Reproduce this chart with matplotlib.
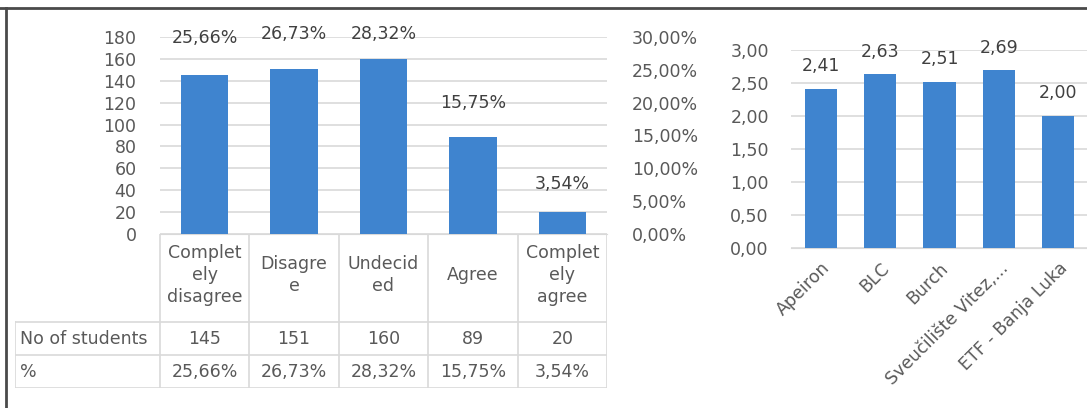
import matplotlib
matplotlib.use("Agg")
import matplotlib.pyplot as plt
from matplotlib.lines import Line2D
from matplotlib.ticker import FuncFormatter

# data
answers = ["Complet\nely\ndisagree", "Disagre\ne", "Undecid\ned", "Agree", "Complet\nely\nagree"]
n_students = [145, 151, 160, 89, 20]
pct = [25.66, 26.73, 28.32, 15.75, 3.54]
row_names = ["No of students", "%"]

schools = ["Apeiron", "BLC", "Burch", "Sveučilište Vitez,...", "ETF - Banja Luka"]
school_avg = [2.41, 2.63, 2.51, 2.69, 2.00]

blue = "#3f84cf"
grid_c = "#d9d9d9"
txt_c = "#595959"
lbl_c = "#404040"
fs = 12.5

plt.rcParams["font.family"] = "DejaVu Sans"

def comma(v, fmt="{:.2f}"):
    return fmt.format(v).replace(".", ",")

W, H = 1087, 408
fig = plt.figure(figsize=(W / 100, H / 100), dpi=100)

def box(x0, y0, x1, y1):
    # pixel box (top-left origin) -> figure fraction
    return [x0 / W, 1 - y1 / H, (x1 - x0) / W, (y1 - y0) / H]

# ---- left chart
ax = fig.add_axes(box(160, 37, 607, 234))
x = list(range(len(answers)))
ax.bar(x, n_students, width=0.53, color=blue, zorder=3)
ax.set_xlim(-0.5, len(answers) - 0.5)
ax.set_ylim(0, 180)
ax.set_yticks(range(0, 181, 20))
ax.grid(axis="y", color=grid_c, lw=1.2, zorder=0)
ax.set_xticks([])
for s in ["top", "right", "left"]:
    ax.spines[s].set_visible(False)
ax.spines["bottom"].set_color(grid_c)
ax.tick_params(axis="y", length=0, pad=17, labelsize=fs, labelcolor=txt_c)

ax2 = ax.twinx()
ax2.set_ylim(0, 30)
ax2.set_yticks(range(0, 31, 5))
ax2.yaxis.set_major_formatter(FuncFormatter(lambda v, p: comma(v) + "%"))
ax2.tick_params(axis="y", length=0, pad=18, labelsize=fs, labelcolor=txt_c)
for s in ax2.spines.values():
    s.set_visible(False)
pct_labels = []
for i, p in enumerate(pct):
    t = ax2.annotate(comma(p) + "%", (i, p), xytext=(0, 19.5), textcoords="offset points",
                     ha="center", va="center", fontsize=fs, color=lbl_c)
    pct_labels.append(t)

# keep labels inside the chart area like excel does
fig.canvas.draw()
top_px = ax.get_window_extent().y1 + 12
for t in pct_labels:
    bb = t.get_window_extent()
    if bb.y1 > top_px:
        dx, dy = t.xyann
        t.xyann = (dx, dy - (bb.y1 - top_px) * 72 / fig.dpi)

# ---- data table under left chart
row_w = 1.62  # width of row-label column in category units
tb = fig.add_axes(box(15, 234, 607, 388))
tb.set_xlim(-0.5 - row_w, len(answers) - 0.5)
hdr = 2.67
tb.set_ylim(hdr + len(row_names), 0)
tb.axis("off")
for k in range(len(answers) + 1):
    tb.plot([k - 0.5, k - 0.5], [0, hdr + len(row_names)], color=grid_c, lw=1.2)
tb.plot([-0.5 - row_w] * 2, [hdr, hdr + len(row_names)], color=grid_c, lw=1.2)
for r in range(len(row_names) + 1):
    tb.plot([-0.5 - row_w, len(answers) - 0.5], [hdr + r] * 2, color=grid_c, lw=1.2)
for i, a in enumerate(answers):
    tb.text(i, hdr / 2 - 0.1, a, ha="center", va="center", fontsize=fs, color=txt_c,
            linespacing=1.3)
rows = [[str(v) for v in n_students], [comma(p) + "%" for p in pct]]
for r, name in enumerate(row_names):
    yc = hdr + r + 0.5
    tb.text(-0.5 - row_w + 0.06, yc, name, ha="left", va="center", fontsize=fs, color=txt_c)
    for i, v in enumerate(rows[r]):
        tb.text(i, yc, v, ha="center", va="center", fontsize=fs, color=txt_c)

# ---- right chart
bx = fig.add_axes(box(791, 50, 1088, 248))
xs = list(range(len(schools)))
bx.bar(xs, school_avg, width=0.54, color=blue, zorder=3)
bx.set_xlim(-0.5, len(schools) - 0.5)
bx.set_ylim(0, 3)
bx.set_yticks([0, 0.5, 1, 1.5, 2, 2.5, 3])
bx.yaxis.set_major_formatter(FuncFormatter(lambda v, p: comma(v)))
bx.grid(axis="y", color=grid_c, lw=1.2, zorder=0)
for s in ["top", "right", "left"]:
    bx.spines[s].set_visible(False)
bx.spines["bottom"].set_color(grid_c)
bx.tick_params(axis="y", length=0, pad=16, labelsize=fs, labelcolor=txt_c)
bx.set_xticks(xs)
bx.set_xticklabels(schools, rotation=45, ha="right", rotation_mode="anchor",
                   fontsize=fs, color=txt_c)
bx.tick_params(axis="x", length=0, pad=8)
for i, v in enumerate(school_avg):
    bx.annotate(comma(v), (i, v), xytext=(0, 16.5), textcoords="offset points",
                ha="center", va="center", fontsize=fs, color=lbl_c)

# frame lines (top and left edge of the scanned box)
fig.add_artist(Line2D([0, 1], [1 - 8 / H] * 2, color="#4a4a4a", lw=2))
fig.add_artist(Line2D([6 / W] * 2, [0, 1 - 8 / H], color="#4a4a4a", lw=2))

fig.savefig("out.png", dpi=100)
